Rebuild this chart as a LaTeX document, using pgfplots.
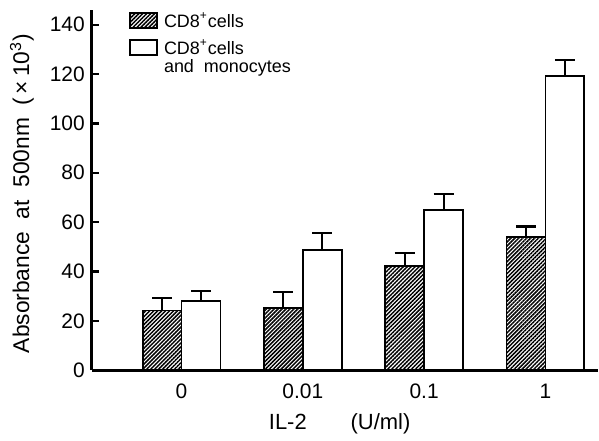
\documentclass[border=0pt]{standalone}
\usepackage{fontspec}
\setmainfont{Liberation Sans}
\usepackage{pgfplots}
\pgfplotsset{compat=1.18}
\usetikzlibrary{patterns.meta}
\begin{document}
\begin{tikzpicture}
\begin{axis}[
  scale only axis, width=253.5pt, height=180.5pt,
  xmin=-0.74, xmax=3.43, ymin=0, ymax=146,
  axis x line*=bottom, axis y line*=left,
  axis line style={line width=1.4pt},
  xtick={0,1,2,3}, xticklabels={0,0.01,0.1,1},
  xtick style={draw=none},
  ytick={0,20,...,140},
  ytick style={line width=1.2pt, black},
  tick align=inside, major tick length=3.5pt,
  ybar=0pt, bar width=19.5pt,
  /pgf/number format/assume math mode=true,
  tick label style={font=\fontsize{10.5}{12}\selectfont},
  xlabel={IL-2\qquad(U/ml)},
  xlabel style={at={(axis description cs:0.49,0)}, anchor=center, yshift=-27pt, font=\fontsize{11}{13}\selectfont},
  ylabel={Absorbance\ \ at\ \ 500nm\ \ (\,×\,10\textsuperscript{3})},
  ylabel style={at={(axis description cs:-0.138,0.49)}, anchor=center, font=\fontsize{11.4}{13}\selectfont},
  error bars/y dir=plus, error bars/y explicit,
  error bars/error bar style={line width=1.1pt, black},
  error bars/error mark options={rotate=90, mark size=5pt, line width=1.1pt, black},
]
\addplot[draw=black, line width=0.9pt, pattern={Lines[angle=45,distance=1.4pt,line width=0.75pt]}, pattern color=black]
  coordinates {(0,24.2) +- (0,5.0) (1,25.3) +- (0,6.4) (2,42.3) +- (0,5.1) (3,53.9) +- (0,4.3)};
\addplot[draw=black, line width=0.9pt, fill=white]
  coordinates {(0,28.1) +- (0,3.9) (1,48.8) +- (0,6.7) (2,64.9) +- (0,6.5) (3,119.2) +- (0,6.6)};
\end{axis}
\path (current axis.south west) ++(-46pt,-33pt) coordinate (O);
\begin{scope}[shift={(O)}, x=1pt, y=1pt]
\path[use as bounding box] (0,0) rectangle (299.5,218.5);
% legend
\draw[line width=0.9pt, pattern={Lines[angle=45,distance=1.4pt,line width=0.75pt]}, pattern color=black] (65,204.5) rectangle (78.5,212);
\node[anchor=west, inner sep=0pt, font=\fontsize{9}{10}\selectfont] at (82,208.5) {CD8\textsuperscript{+}cells};
\draw[line width=0.9pt, fill=white] (65,191) rectangle (78.5,198.5);
\node[anchor=west, inner sep=0pt, font=\fontsize{9}{10}\selectfont] at (82,195) {CD8\textsuperscript{+}cells};
\node[anchor=west, inner sep=0pt, font=\fontsize{9}{10}\selectfont] at (82,184.5) {and\ \ monocytes};
\end{scope}
\end{tikzpicture}
\end{document}
